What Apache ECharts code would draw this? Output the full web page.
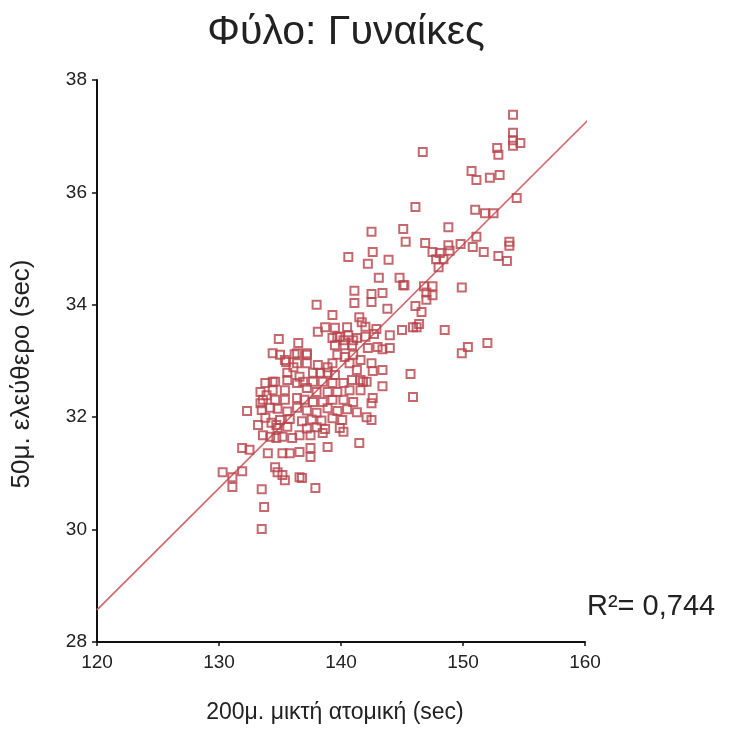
<!DOCTYPE html>
<html>
<head>
<meta charset="utf-8">
<script src="https://cdn.jsdelivr.net/npm/echarts@6/dist/echarts.min.js"></script>
<style>
html,body{margin:0;padding:0;background:#fff;}
#chart{width:731px;height:751px;}
</style>
</head>
<body>
<div id="chart"></div>
<script>
const chartTitle = 'Φύλο: Γυναίκες';
const xAxisName = '200μ. μικτή ατομική (sec)';
const yAxisName = '50μ. ελεύθερο (sec)';
const rSquaredText = 'R²= 0,744';
const xTicks = [120, 130, 140, 150, 160];
const yTicks = [28, 30, 32, 34, 36, 38];
// regression line end points [x, y]
const trendStart = [120, 28.57];
const trendEnd = [160.4, 37.32];
// athletes: [200m IM time, 50m free time]
const upperPoints = [
[154.1,37.38],[154.1,37.06],[154.1,36.93],[154.7,36.88],[154.1,36.83],[152.8,36.79],[152.9,36.67],[146.7,36.72],
[150.7,36.38],[151.1,36.22],[152.2,36.26],[153.0,36.31],[146.1,35.74],[154.4,35.90],[151.0,35.69],[151.8,35.63],
[152.5,35.63],[145.1,35.35],[148.8,35.38],[145.3,35.12],[146.9,35.10],[147.5,34.94],[147.8,34.81],[148.1,34.92],
[148.4,34.81],[148.8,35.06],[148.9,34.96],[149.8,35.08],[151.1,35.21],[150.8,35.03],[151.7,34.94],[153.8,35.12],
[153.8,35.05],[152.9,34.87],[153.6,34.78],[148.0,34.67],[145.1,34.35],[146.8,34.33],[147.0,34.22],[147.5,34.33],
[147.5,34.17],[147.0,34.09],[149.9,34.31],[146.1,33.98],[146.6,33.87],[145.0,33.55],[145.9,33.60],[146.2,33.60],
[146.4,33.66],[148.5,33.55],[149.9,33.14],[150.4,33.25],[152.0,33.32]
];
const middlePoints = [
[140.6,34.85],[142.6,34.94],[142.5,35.30],[142.2,34.73],[143.9,34.80],[143.1,34.48],[144.8,34.48],[145.2,34.35],
[141.1,34.25],[142.5,34.19],[143.4,34.21],[142.5,34.05],[141.1,34.03],[143.8,33.93],[139.3,33.82],[141.5,33.78],
[141.7,33.69],[142.0,33.61],[140.5,33.60],[139.5,33.59],[142.9,33.57],[142.7,33.48],[144.0,33.46],[139.7,33.43],
[140.2,33.37],[141.0,33.37],[142.0,33.43],[142.2,33.23],[143.0,33.25],[143.4,33.21],[144.0,33.23],[138.1,33.52],
[138.7,33.60],[138.0,34.0],
[142.5,32.96],[142.6,32.82],[143.4,32.84],[145.7,32.77],[141.8,32.63],[142.1,32.63],[143.4,32.55],[145.9,32.36],
[142.6,32.34],[142.5,32.25],[142.5,31.95],[140.2,31.74],[141.5,31.54]
];
const lowerPoints = [
[134.3,31.90],[134.7,31.86],[133.6,31.68],[134.2,31.65],[134.7,31.63],[135.2,31.65],[136.0,31.63],[136.6,31.68],
[137.5,31.68],[138.5,31.72],[131.9,31.45],[132.5,31.42],[134.0,31.36],[135.2,31.36],[135.8,31.36],[136.6,31.38],
[137.5,31.45],[138.9,31.47],[137.5,31.29],[130.3,31.02],[131.1,30.93],[131.9,31.04],[131.1,30.76],[134.6,31.11],
[134.8,31.02],[135.2,30.97],[135.4,30.88],[136.6,30.93],[136.8,30.92],[137.9,30.74],[133.5,30.72],[133.7,30.40],
[133.5,30.01]
];
const clusterPoints = [
[134.9,33.39],[136.5,33.32],[134.4,33.14],[135.0,33.11],[135.5,32.98],[136.4,33.14],[137.2,33.14],[133.8,32.61],
[134.4,32.63],[135.6,32.66],[133.4,32.45],[133.9,32.39],[133.6,32.31],[133.4,32.25],[132.3,32.11],[133.5,32.13],
[133.8,31.99],[133.2,31.86],[134.2,32.17],[135.6,32.79],[136.1,32.89],
[139.3,33.41],[139.9,33.43],[140.6,33.46],[141.3,33.41],[139.5,33.28],[140.3,33.28],[140.9,33.28],[135.4,33.02],
[136.2,33.12],[137.2,33.11],[136.4,32.96],[137.2,32.96],[138.1,32.93],[138.9,32.89],[139.3,32.96],[139.7,33.11],
[140.3,33.07],[141.0,33.11],[141.6,33.02],[140.7,32.96],[141.3,32.84],[137.7,32.79],[138.3,32.79],[138.9,32.79],
[139.5,32.75],[136.6,32.72],[136.9,32.63],[136.4,32.61],[134.6,32.63],[134.4,32.48],[135.4,32.48],[137.7,32.63],
[138.5,32.63],[139.3,32.61],[140.2,32.61],[140.9,32.66],[141.6,32.66],[140.7,32.48],[141.6,32.48],[137.2,32.52],
[138.0,32.45],[138.9,32.45],[139.7,32.45],[134.6,32.31],[135.4,32.31],[136.4,32.34],[137.0,32.31],[137.7,32.27],
[138.5,32.27],[139.3,32.31],[140.2,32.31],[141.0,32.27],
[134.8,32.15],[135.6,32.10],[136.4,32.17],[137.2,32.12],[138.0,32.08],[138.9,32.16],[139.7,32.11],[140.5,32.14],
[141.3,32.09],
[135.0,31.95],[135.8,31.97],[136.8,31.93],[137.6,31.96],[138.4,31.94],[139.3,31.98],[140.1,31.95],
[134.8,31.81],[135.6,31.83],[137.2,31.80],[138.0,31.82],[138.7,31.79],[139.9,31.81],[142.1,32.0]
];
const allPoints = upperPoints.concat(middlePoints, lowerPoints, clusterPoints);

const markerColor = '#b8444b';
const lineColor = '#d06a6f';
const font = 'Liberation Sans, Arial, sans-serif';

const chart = echarts.init(document.getElementById('chart'), null, {renderer: 'canvas'});
chart.setOption({
  backgroundColor: '#ffffff',
  animation: false,
  grid: {left: 97, right: 146, top: 80, bottom: 109, containLabel: false, outerBoundsMode: 'none'},
  xAxis: {
    type: 'value', min: xTicks[0], max: xTicks[xTicks.length - 1], interval: 10,
    axisLine: {show: true, onZero: false, lineStyle: {color: '#111', width: 2}},
    axisTick: {show: true, inside: false, length: 4, lineStyle: {color: '#111', width: 1.5}},
    axisLabel: {fontFamily: font, fontSize: 19, color: '#222', margin: 11},
    splitLine: {show: false}
  },
  yAxis: {
    type: 'value', min: yTicks[0], max: yTicks[yTicks.length - 1], interval: 2,
    axisLine: {show: true, onZero: false, lineStyle: {color: '#111', width: 2}},
    axisTick: {show: true, inside: false, length: 5, lineStyle: {color: '#111', width: 1.5}},
    axisLabel: {fontFamily: font, fontSize: 19, color: '#222', margin: 10},
    splitLine: {show: false}
  },
  series: [
    {
      type: 'line',
      data: [trendStart, trendEnd],
      symbol: 'none',
      clip: false,
      lineStyle: {color: lineColor, width: 1.7},
      z: 1
    },
    {
      type: 'scatter',
      data: allPoints,
      symbol: 'rect',
      symbolSize: 8,
      itemStyle: {color: 'rgba(255,255,255,0)', borderColor: markerColor, borderWidth: 2},
      z: 2
    }
  ],
  graphic: [
    {
      type: 'text', x: 346, y: 33,
      style: {text: chartTitle, font: '41px Liberation Sans, Arial, sans-serif', fill: '#222',
              textAlign: 'center', textVerticalAlign: 'middle', align: 'center', verticalAlign: 'middle'}
    },
    {
      type: 'text', x: 335, y: 713,
      style: {text: xAxisName, font: '23px Liberation Sans, Arial, sans-serif', fill: '#222',
              textAlign: 'center', textVerticalAlign: 'middle', align: 'center', verticalAlign: 'middle'}
    },
    {
      type: 'text', x: 22, y: 374, rotation: Math.PI / 2,
      style: {text: yAxisName, font: '26px Liberation Sans, Arial, sans-serif', fill: '#222',
              textAlign: 'center', textVerticalAlign: 'middle', align: 'center', verticalAlign: 'middle'}
    },
    {
      type: 'text', left: 587, top: 592,
      style: {text: rSquaredText, font: '29px Liberation Sans, Arial, sans-serif', fill: '#222'}
    }
  ]
});
</script>
</body>
</html>
